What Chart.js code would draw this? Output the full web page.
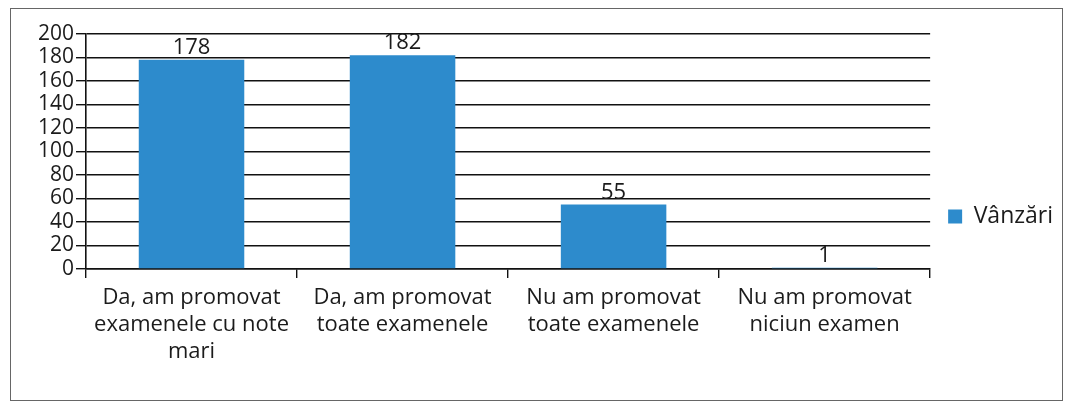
<!DOCTYPE html>
<html>
<head>
<meta charset="utf-8">
<script src="https://cdn.jsdelivr.net/npm/chart.js@4"></script>
<style>
  html, body { margin: 0; padding: 0; background: #fff; }
  #wrap { position: relative; width: 1071px; height: 409px; }
  #frame {
    position: absolute; left: 10px; top: 8px; width: 1051px; height: 391px;
    border: 1.5px solid #666; pointer-events: none;
  }
  canvas { position: absolute; left: 0; top: 0; }
</style>
</head>
<body>
<div id="wrap">
  <canvas id="chart" width="1071" height="409"></canvas>
  <div id="frame"></div>
</div>
<script>
const categories = [
  ["Da, am promovat", "examenele cu note", "mari"],
  ["Da, am promovat", "toate examenele"],
  ["Nu am promovat", "toate examenele"],
  ["Nu am promovat", "niciun examen"],
];
const seriesName = "Vânzări";
const values = [178, 182, 55, 1];

const FONT = "'Open Sans', 'DejaVu Sans', sans-serif";
const BLUE = "#2d8bcc";
const INK = "#1b1b1b";

// value labels above each bar
const barLabels = {
  id: "barLabels",
  afterDatasetsDraw(chart) {
    const ctx = chart.ctx;
    const meta = chart.getDatasetMeta(0);
    ctx.save();
    ctx.font = "22px " + FONT;
    ctx.fillStyle = INK;
    ctx.textAlign = "center";
    ctx.textBaseline = "bottom";
    meta.data.forEach((bar, i) => {
      ctx.fillText(String(values[i]), bar.x, bar.y - 1);
    });
    ctx.restore();
  },
};

new Chart("chart", {
  type: "bar",
  data: {
    labels: categories,
    datasets: [
      {
        label: seriesName,
        data: values,
        backgroundColor: BLUE,
        borderWidth: 0,
        categoryPercentage: 1,
        barPercentage: 0.5,
      },
    ],
  },
  options: {
    responsive: false,
    animation: false,
    layout: { padding: { left: 20, top: 34, right: 8, bottom: 10 } },
    plugins: {
      tooltip: { enabled: false },
      legend: {
        position: "right",
        labels: {
          color: INK,
          font: { family: FONT, size: 23 },
          boxWidth: 14,
          boxHeight: 14,
          padding: 18,
        },
      },
    },
    scales: {
      y: {
        min: 0,
        max: 200,
        afterFit: (s) => { s.width = 66; },
        ticks: {
          stepSize: 20,
          autoSkip: false,
          color: INK,
          font: { family: FONT, size: 21, lineHeight: 1 },
          padding: 2,
        },
        grid: { color: "#111", lineWidth: 1.4, tickLength: 10 },
        border: { color: "#111", width: 1.6 },
      },
      x: {
        afterFit: (s) => { s.height = 130; },
        ticks: {
          color: INK,
          font: { family: FONT, size: 22, lineHeight: 1.23 },
          maxRotation: 0,
          autoSkip: false,
          padding: 6,
        },
        grid: {
          offset: true,
          drawOnChartArea: false,
          color: "#111",
          lineWidth: 1.4,
          tickLength: 9,
        },
        border: { color: "#111", width: 1.6 },
      },
    },
  },
  plugins: [barLabels],
});
</script>
</body>
</html>
